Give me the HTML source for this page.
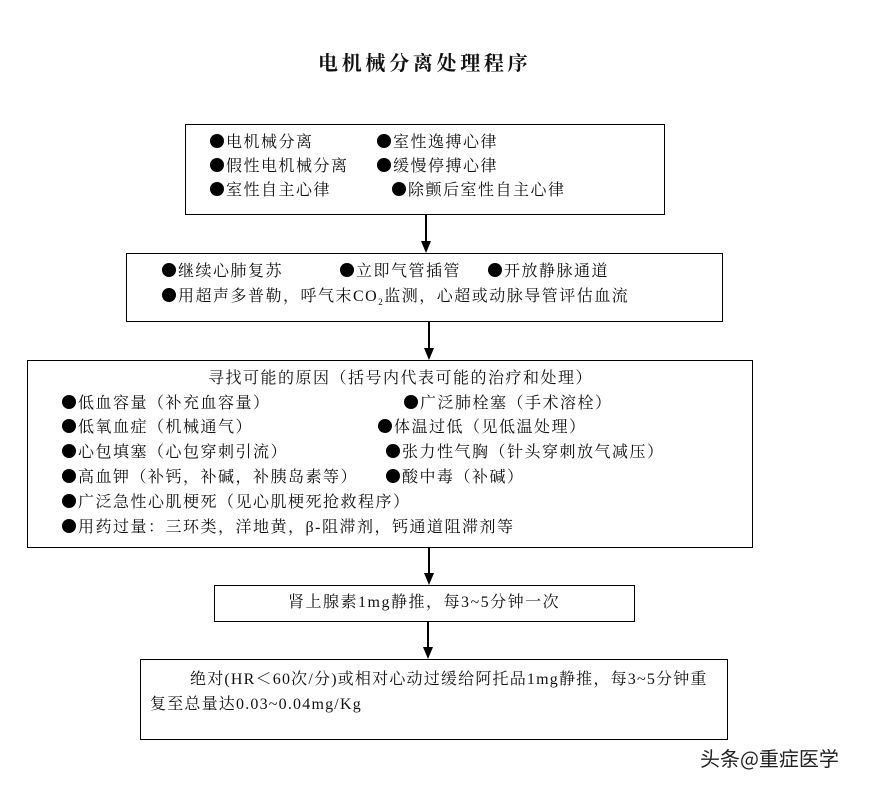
<!DOCTYPE html>
<html><head><meta charset="utf-8"><style>
body{margin:0;width:883px;height:790px;background:#fff;position:relative;overflow:hidden;font-family:"Liberation Serif","Noto Serif CJK SC","Noto Sans CJK SC",serif;color:#111}
.b{position:absolute;border:1.5px solid #000;box-sizing:border-box}
.t{position:absolute;font-size:16px;white-space:nowrap;line-height:20px;letter-spacing:1.5px}
.t i{display:inline-block;width:14px;height:14px;border-radius:50%;background:#000;vertical-align:-1px;margin-right:2px}
.l{position:absolute;width:1.5px;background:#000}
.a{position:absolute;width:0;height:0;border-left:5px solid transparent;border-right:5px solid transparent;border-top:12px solid #000}
</style></head><body>
<div class="t" style="left:318px;top:54px;font-size:20px;font-weight:bold;letter-spacing:3.7px">电机械分离处理程序</div>

<div class="b" style="left:185px;top:124px;width:480px;height:91px"></div>
<div class="t" style="left:210px;top:133px"><i></i>电机械分离</div>
<div class="t" style="left:377px;top:133px"><i></i>室性逸搏心律</div>
<div class="t" style="left:210px;top:157px"><i></i>假性电机械分离</div>
<div class="t" style="left:377px;top:157px"><i></i>缓慢停搏心律</div>
<div class="t" style="left:210px;top:181px"><i></i>室性自主心律</div>
<div class="t" style="left:392px;top:181px"><i></i>除颤后室性自主心律</div>

<div class="l" style="left:425px;top:215px;height:28px"></div><div class="a" style="left:421px;top:241px"></div>

<div class="b" style="left:126px;top:253px;width:597px;height:69px"></div>
<div class="t" style="left:162px;top:262px"><i></i>继续心肺复苏</div>
<div class="t" style="left:340px;top:262px"><i></i>立即气管插管</div>
<div class="t" style="left:488px;top:262px"><i></i>开放静脉通道</div>
<div class="t" style="left:162px;top:287px"><i></i>用超声多普勒，呼气末CO<sub style="font-size:9px">2</sub>监测，心超或动脉导管评估血流</div>

<div class="l" style="left:428px;top:322px;height:28px"></div><div class="a" style="left:424px;top:348px"></div>

<div class="b" style="left:27px;top:360px;width:726px;height:188px"></div>
<div class="t" style="left:208px;top:369px">寻找可能的原因（括号内代表可能的治疗和处理）</div>
<div class="t" style="left:62px;top:394px"><i></i>低血容量（补充血容量）</div>
<div class="t" style="left:404px;top:394px"><i></i>广泛肺栓塞（手术溶栓）</div>
<div class="t" style="left:62px;top:418px"><i></i>低氧血症（机械通气）</div>
<div class="t" style="left:378px;top:418px"><i></i>体温过低（见低温处理）</div>
<div class="t" style="left:62px;top:443px"><i></i>心包填塞（心包穿刺引流）</div>
<div class="t" style="left:386px;top:443px"><i></i>张力性气胸（针头穿刺放气减压）</div>
<div class="t" style="left:62px;top:468px"><i></i>高血钾（补钙，补碱，补胰岛素等）</div>
<div class="t" style="left:386px;top:468px"><i></i>酸中毒（补碱）</div>
<div class="t" style="left:62px;top:493px"><i></i>广泛急性心肌梗死（见心肌梗死抢救程序）</div>
<div class="t" style="left:62px;top:518px"><i></i>用药过量：三环类，洋地黄，β-阻滞剂，钙通道阻滞剂等</div>

<div class="l" style="left:428px;top:548px;height:27px"></div><div class="a" style="left:424px;top:573px"></div>

<div class="b" style="left:214px;top:585px;width:421px;height:37px"></div>
<div class="t" style="left:288px;top:593px">肾上腺素1mg静推，每3~5分钟一次</div>

<div class="l" style="left:427px;top:622px;height:27px"></div><div class="a" style="left:423px;top:647px"></div>

<div class="b" style="left:140px;top:659px;width:588px;height:81px"></div>
<div class="t" style="left:190px;top:670px;letter-spacing:1.2px">绝对(HR＜60次/分)或相对心动过缓给阿托品1mg静推，每3~5分钟重</div>
<div class="t" style="left:150px;top:695px;letter-spacing:1.2px">复至总量达0.03~0.04mg/Kg</div>

<div class="t" style="left:700px;top:744px;font-family:'Noto Sans CJK SC',sans-serif;font-size:20px;color:#222;line-height:28px;letter-spacing:0">头条@重症医学</div>
</body></html>
